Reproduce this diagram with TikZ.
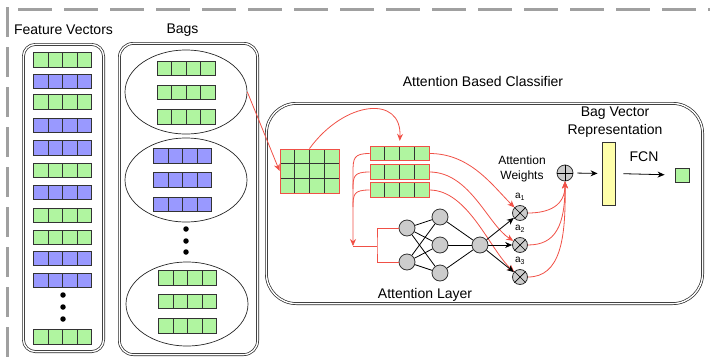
\documentclass[tikz,border=0pt]{standalone}
\usepackage{fontspec}
\setmainfont{Liberation Sans}
\usetikzlibrary{calc,arrows.meta,shapes.geometric}
\definecolor{vgreen}{RGB}{176,245,160}
\definecolor{vblue}{RGB}{153,153,255}
\definecolor{vred}{RGB}{240,80,70}
\definecolor{ngrey}{RGB}{204,204,204}
\definecolor{byellow}{RGB}{255,255,170}
\definecolor{framegrey}{RGB}{160,160,160}
\begin{document}
\begin{tikzpicture}[x=1pt,y=-1pt,
  lbl/.style={font=\fontsize{14}{18}\selectfont, inner sep=0pt, align=center},
  slbl/.style={font=\fontsize{12}{15}\selectfont, inner sep=0pt, align=center},
  sublbl/.style={font=\fontsize{10}{12}\selectfont, inner sep=0pt},
  frame/.style={draw=framegrey, line width=3pt},
  dbox/.style={draw=black!85, double, double distance=1.4pt, line width=0.7pt, inner sep=0pt},
  cellrow/.style={rectangle, minimum width=58pt, minimum height=14.5pt, inner sep=0pt,
    draw=black!80, line width=0.9pt,
    path picture={\foreach \f in {0.25,0.5,0.75}{\draw[black!80, line width=0.9pt]
      ($(path picture bounding box.south west)!\f!(path picture bounding box.south east)$) --
      ($(path picture bounding box.north west)!\f!(path picture bounding box.north east)$);}}},
  gvec/.style={cellrow, fill=vgreen},
  bvec/.style={cellrow, fill=vblue},
  rvec/.style={cellrow, fill=vgreen, draw=vred, minimum width=59pt},
  mat/.style={rectangle, minimum width=59pt, minimum height=44pt, inner sep=0pt,
    fill=vgreen, draw=vred, line width=0.9pt,
    path picture={\foreach \f in {0.25,0.5,0.75}{\draw[black!80, line width=0.9pt]
      ($(path picture bounding box.south west)!\f!(path picture bounding box.south east)$) --
      ($(path picture bounding box.north west)!\f!(path picture bounding box.north east)$);}
      \foreach \f in {0.3333,0.6667}{\draw[black!80, line width=0.9pt]
      ($(path picture bounding box.south west)!\f!(path picture bounding box.north west)$) --
      ($(path picture bounding box.south east)!\f!(path picture bounding box.north east)$);}}},
  bagell/.style={ellipse, draw=black!85, line width=0.7pt, minimum width=122pt, minimum height=84pt, inner sep=0pt},
  dotn/.style={circle, fill=black, minimum size=5.5pt, inner sep=0pt},
  nn/.style={circle, draw=black!80, fill=ngrey, minimum size=16pt, inner sep=0pt, line width=0.8pt},
  opn/.style={circle, draw=black!80, fill=ngrey, minimum size=15pt, inner sep=0pt, line width=0.8pt},
  redarr/.style={draw=vred, line width=0.8pt, -{Stealth[length=7pt,width=6pt]}},
  redln/.style={draw=vred, line width=0.8pt},
  blkarr/.style={draw=black, line width=0.8pt, -{Stealth[length=7pt,width=6pt]}},
  blkln/.style={draw=black, line width=0.8pt}]
\useasboundingbox (0,0) rectangle (710,362);
% dashed frame
\draw[frame, dash pattern=on 30pt off 10pt] (7,7) -- (7,362);
\draw[frame, dash pattern=on 34pt off 12pt] (18,9) -- (710,9);

% labels
\node[lbl] (fvl) at (63.5,30) {Feature Vectors};
\node[lbl] (bgl) at (182.5,30) {Bags};
\node[lbl] (abc) at (483,81) {Attention Based Classifier};

% containers
\node[dbox, rounded corners=12pt, minimum width=80.2pt, minimum height=307.2pt] (fvbox) at (63.5,198) {};
\node[dbox, rounded corners=14pt, minimum width=138.2pt, minimum height=311.2pt] (bagbox) at (188.5,199) {};
\node[dbox, rounded corners=30pt, minimum width=436.2pt, minimum height=200.2pt] (clbox) at (484.5,203.5) {};

% feature vectors
\node[gvec] (f1) at (62.5,60) {};
\node[bvec] (f2) at (62.5,81.5) {};
\node[gvec] (f3) at (62.5,102) {};
\node[bvec] (f4) at (62.5,125.5) {};
\node[bvec] (f5) at (62.5,148) {};
\node[gvec] (f6) at (62.5,170.5) {};
\node[bvec] (f7) at (62.5,192.5) {};
\node[gvec] (f8) at (62.5,215.5) {};
\node[gvec] (f9) at (62.5,237.5) {};
\node[bvec] (f10) at (62.5,258.5) {};
\node[bvec] (f11) at (62.5,280.5) {};
\node[dotn] (fd1) at (63,295) {};
\node[dotn] (fd2) at (63,307) {};
\node[dotn] (fd3) at (63,319) {};
\node[gvec] (f12) at (62.5,337) {};

% bags
\node[bagell] (e1) at (186,92) {};
\node[gvec] (b11) at (186,68.5) {};
\node[gvec] (b12) at (186,92.5) {};
\node[gvec] (b13) at (186,117) {};
\node[bagell] (e2) at (186,180) {};
\node[bvec] (b21) at (182.5,156) {};
\node[bvec] (b22) at (182.5,180) {};
\node[bvec] (b23) at (182.5,204.5) {};
\node[dotn] (bd1) at (186,229) {};
\node[dotn] (bd2) at (186,241) {};
\node[dotn] (bd3) at (186,252) {};
\node[bagell] (e3) at (187,304) {};
\node[gvec] (b31) at (187.5,278) {};
\node[gvec] (b32) at (187.5,301.5) {};
\node[gvec] (b33) at (187.5,326) {};

% classifier contents
\node[mat] (m) at (309.5,171) {};
\node[rvec] (v1) at (399.5,153.5) {};
\node[rvec] (v2) at (399.5,172) {};
\node[rvec] (v3) at (399.5,190) {};

\node[nn] (i1) at (407,228) {};
\node[nn] (i2) at (407,262) {};
\node[nn] (h1) at (440,217) {};
\node[nn] (h2) at (440,245) {};
\node[nn] (h3) at (440,273) {};
\node[nn] (o) at (480,245) {};

\node[opn] (x1) at (520,213) {};
\node[opn] (x2) at (520,245) {};
\node[opn] (x3) at (520,277) {};
\foreach \n in {x1,x2,x3}{
  \draw[blkln, line width=0.7pt] (\n.north west) -- (\n.south east);
  \draw[blkln, line width=0.7pt] (\n.north east) -- (\n.south west);
}
\node[sublbl] (la1) at (520,197) {a\textsubscript{1}};
\node[sublbl] (la2) at (520,229) {a\textsubscript{2}};
\node[sublbl] (la3) at (520,261) {a\textsubscript{3}};

\node[nn] (p) at (565,173) {};
\draw[blkln, line width=0.7pt] (p.north) -- (p.south);
\draw[blkln, line width=0.7pt] (p.west) -- (p.east);

\node[rectangle, draw=black!80, fill=byellow, line width=0.9pt, minimum width=13pt, minimum height=63pt, inner sep=0pt] (bar) at (608.5,173.5) {};
\node[rectangle, draw=black!80, fill=vgreen, line width=0.9pt, minimum size=14pt, inner sep=0pt] (out) at (682,175) {};

\node[slbl] (aw) at (522,168.5) {Attention\\Weights};
\node[lbl] (bvr) at (615,122) {Bag Vector\\Representation};
\node[lbl] (fcn) at (644,157) {FCN};
\node[lbl] (al) at (425,295) {Attention Layer};

% red connectors
\draw[redarr] (e1.east) -- (m.west);
\draw[redarr, shorten >=5pt] (m.north) .. controls (345,100) and (402,95) .. (v1.north);

\coordinate (fork) at (353,246);
\coordinate (brk) at (377,246);
\draw[redarr] (v1.west) .. controls (354,153.5) and (353,158) .. (353,172) -- (fork);
\draw[redln] (v2.west) .. controls (354,172) and (353,176) .. (353,189);
\draw[redln] (v3.west) .. controls (354,190) and (353,194) .. (353,207);
\draw[redln] (fork) -- (brk);
\draw[redln] (i1.west) -| (brk) |- (i2.west);

\draw[redarr] (v1.east) .. controls (470,153.5) and (492,185) .. (x1);
\draw[redarr] (v2.east) .. controls (470,172) and (488,225) .. (x2);
\draw[redarr] (v3.east) .. controls (468,190) and (490,250) .. (x3);

\draw[redarr] (x1.east) .. controls (550,213) and (565,205) .. (p.south);
\draw[redarr] (x2.east) .. controls (556,245) and (565,225) .. (p.south);
\draw[redarr] (x3.east) .. controls (560,277) and (566,240) .. (p.south);

% network edges
\foreach \a in {i1,i2}{\foreach \b in {h1,h2,h3}{\draw[blkln] (\a) -- (\b);}}
\foreach \b in {h1,h2,h3}{\draw[blkln] (\b) -- (o);}
\draw[blkarr] (o) -- (x1);
\draw[blkarr] (o) -- (x2);
\draw[blkarr] (o) -- (x3);

\draw[blkarr, shorten <=4pt, shorten >=4pt] (p.east) -- (bar.west);
\draw[blkarr, shorten <=8pt, shorten >=10pt] (bar.east) -- (out.west);
\end{tikzpicture}
\end{document}
